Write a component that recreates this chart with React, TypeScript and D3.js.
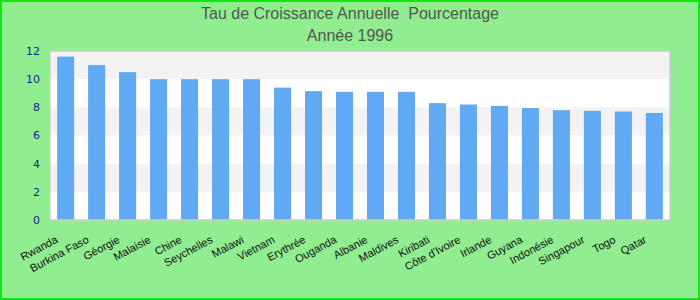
import React, { useEffect, useRef } from 'react';
import * as d3 from 'd3';

const countries = [
  'Rwanda', 'Burkina Faso', 'Géorgie', 'Malaisie', 'Chine', 'Seychelles', 'Malawi',
  'Vietnam', 'Erythrée', 'Ouganda', 'Albanie', 'Maldives', 'Kiribati', "Côte d'Ivoire",
  'Irlande', 'Guyana', 'Indonésie', 'Singapour', 'Togo', 'Qatar',
];
const growth = [
  11.6, 11.0, 10.5, 10.0, 10.0, 10.0, 10.0,
  9.4, 9.15, 9.1, 9.1, 9.1, 8.3, 8.2,
  8.1, 7.95, 7.8, 7.75, 7.7, 7.6,
];
const yTicks = [0, 2, 4, 6, 8, 10, 12];
const titleLines = ['Tau de Croissance Annuelle  Pourcentage', 'Année 1996'];

const App: React.FC = () => {
  const svgRef = useRef<SVGSVGElement>(null);

  useEffect(() => {
    if (!svgRef.current) return;
    const svg = d3.select(svgRef.current);
    svg.selectAll('*').remove();

    const width = 700;
    const height = 300;
    const margin = { top: 51, right: 30, bottom: 80, left: 50 };
    const innerWidth = width - margin.left - margin.right;
    const innerHeight = height - margin.top - margin.bottom;

    // background + green frame
    svg.append('rect')
      .attr('x', 1).attr('y', 1)
      .attr('width', width - 2).attr('height', height - 2)
      .attr('fill', '#90ee90')
      .attr('stroke', '#11e611')
      .attr('stroke-width', 2);

    // titles
    svg.selectAll('.title')
      .data(titleLines)
      .enter()
      .append('text')
      .attr('x', width / 2)
      .attr('y', (_, i) => 19 + i * 22)
      .attr('text-anchor', 'middle')
      .attr('font-family', 'Liberation Sans, Arial, sans-serif')
      .attr('font-size', 16)
      .attr('fill', '#555')
      .style('white-space', 'pre')
      .text(d => d);

    const g = svg.append('g')
      .attr('transform', `translate(${margin.left},${margin.top})`);

    const x = d3.scaleBand()
      .domain(countries)
      .range([0, innerWidth])
      .paddingInner(0.45)
      .paddingOuter(0.23);

    const y = d3.scaleLinear()
      .domain([0, 12])
      .range([innerHeight, 0]);

    // plot background with alternating stripes
    g.append('rect')
      .attr('width', innerWidth)
      .attr('height', innerHeight)
      .attr('fill', '#fff');

    g.selectAll('.stripe')
      .data(yTicks.slice(0, -1).filter((_, i) => i % 2 === 1))
      .enter()
      .append('rect')
      .attr('x', 0)
      .attr('y', d => y(d + 2))
      .attr('width', innerWidth)
      .attr('height', d => y(d) - y(d + 2))
      .attr('fill', '#f3f3f3');

    // bars
    g.selectAll('.bar')
      .data(countries)
      .enter()
      .append('rect')
      .attr('x', d => x(d) || 0)
      .attr('y', (_, i) => y(growth[i]))
      .attr('width', x.bandwidth())
      .attr('height', (_, i) => innerHeight - y(growth[i]))
      .attr('fill', '#61a9f3');

    // frame
    g.append('rect')
      .attr('width', innerWidth)
      .attr('height', innerHeight)
      .attr('fill', 'none')
      .attr('stroke', '#cccccc')
      .attr('stroke-width', 1.5);

    // y axis labels
    g.selectAll('.ytick')
      .data(yTicks)
      .enter()
      .append('text')
      .attr('x', -10)
      .attr('y', d => y(d))
      .attr('dy', '0.35em')
      .attr('text-anchor', 'end')
      .attr('font-family', 'DejaVu Sans, Verdana, sans-serif')
      .attr('font-size', 11)
      .attr('fill', '#1a1a9a')
      .text(d => d);

    // x labels, rotated, ends aligned just left of each bar
    g.selectAll('.xlabel')
      .data(countries)
      .enter()
      .append('text')
      .attr('transform', d => {
        const cx = (x(d) || 0) + x.bandwidth() / 2 - 7;
        const cy = innerHeight + 22;
        return `translate(${cx},${cy}) rotate(-28)`;
      })
      .attr('text-anchor', 'end')
      .attr('font-family', 'Liberation Sans, Arial, sans-serif')
      .attr('font-size', 11)
      .attr('fill', '#111')
      .text(d => d);
  }, []);

  return (
    <div style={{ position: 'absolute', left: 0, top: 0 }}>
      <svg ref={svgRef} width={700} height={300} style={{ display: 'block' }} />
    </div>
  );
};

export default App;
